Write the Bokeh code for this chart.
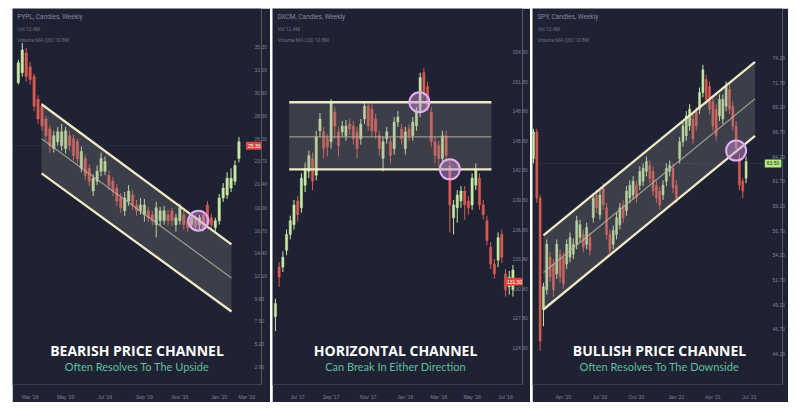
import numpy as np
from bokeh.plotting import figure
from bokeh.models import (Range1d, FixedTicker, ColumnDataSource, Label, Span,
                          Spacer, PrintfTickFormatter)
from bokeh.layouts import row, column
from bokeh.embed import file_html
from bokeh.resources import INLINE

# ---------------- DATA ----------------
# Panel 1 : bearish channel (weekly candles)
bear_open = [31.7, 32.7, 34.7, 33.3, 32.3, 30.0, 29.3, 28.0, 27.0, 25.0, 25.7, 25.3, 25.0, 26.3, 26.0,
             25.7, 23.0, 24.0, 23.0, 20.7, 21.7, 22.7, 22.7, 22.3, 21.7, 21.0, 20.0, 18.7, 19.7, 20.3,
             19.3, 18.7, 18.3, 18.7, 18.3, 17.3, 17.7, 17.7, 18.3, 18.7, 17.3, 17.7, 18.3, 17.7, 17.3,
             18.0, 17.3, 18.3, 19.3, 18.0, 17.0, 17.7, 20.0, 20.3, 21.0, 21.7, 24.0]
bear_close = [33.7, 35.0, 32.3, 32.0, 29.3, 28.0, 27.3, 26.3, 25.3, 26.3, 26.7, 26.7, 26.8, 25.3, 24.3,
              24.0, 24.7, 22.3, 21.7, 22.0, 22.7, 24.0, 23.7, 21.3, 20.7, 19.7, 19.0, 20.0, 20.7, 19.3,
              18.7, 19.3, 19.3, 18.0, 17.7, 19.0, 18.7, 18.7, 17.7, 17.7, 18.0, 19.0, 17.3, 17.0, 18.0,
              17.2, 18.0, 17.0, 17.3, 17.3, 17.7, 20.0, 21.0, 22.0, 22.0, 23.3, 25.7]
bear_high = [34.0, 35.7, 35.2, 33.8, 32.6, 30.4, 29.6, 28.3, 27.4, 26.8, 27.2, 27.5, 27.2, 26.8, 26.4,
             26.0, 25.2, 24.4, 23.4, 22.4, 23.3, 24.6, 24.2, 22.8, 22.1, 21.4, 20.5, 20.6, 21.3, 20.8,
             19.8, 20.0, 19.9, 19.1, 18.7, 19.6, 19.1, 19.2, 18.8, 19.0, 18.4, 19.4, 18.7, 18.0, 18.4,
             18.3, 18.3, 18.7, 19.7, 18.4, 18.0, 20.4, 21.5, 22.6, 23.0, 23.8, 26.2]
bear_low = [31.5, 32.3, 31.8, 31.5, 28.8, 27.5, 26.8, 25.8, 24.6, 24.6, 25.3, 24.8, 24.5, 24.8, 23.8,
            23.5, 22.6, 21.8, 21.2, 20.2, 21.3, 22.2, 22.3, 20.8, 20.2, 19.2, 18.5, 18.2, 19.2, 18.8,
            18.2, 18.3, 17.6, 17.6, 17.2, 16.0, 17.2, 17.3, 17.2, 17.1, 16.6, 17.3, 16.8, 16.6, 16.9,
            16.7, 16.8, 16.6, 16.9, 16.9, 16.6, 17.3, 19.6, 19.9, 20.6, 21.3, 23.6]
bear_chan_x = [5.9, 54.1]
bear_upper = [29.5, 15.3]
bear_mid = [26.0, 11.9]
bear_lower = [22.5, 8.5]
bear_touch_x = [45.7]
bear_touch_y = [17.7]
bear_last = 25.3
bear_price_ticks = [35.3, 33.0, 30.6, 28.3, 26.0, 23.7, 21.4, 19.0, 16.7, 14.4, 12.1, 9.8, 7.5, 5.2, 2.9]
bear_date_ticks = [3, 12, 22, 32, 41, 51, 58]
bear_date_labels = ["Mar '19", "May '19", "Jul '19", "Sep '19", "Nov '19", "Jan '20", "Mar '20"]

# Panel 2 : horizontal channel
horiz_open = [128.0, 133.0, 133.0, 134.7, 136.3, 137.3, 139.7, 139.0, 141.3, 142.7,
              144.0, 142.3, 146.8, 146.7, 146.0, 145.7, 148.7, 146.7, 146.7, 146.3,
              147.5, 147.3, 146.7, 146.0, 148.0, 149.3, 149.0, 148.0, 146.3, 144.0,
              146.0, 145.7, 145.0, 147.7, 147.0, 145.0, 147.0, 146.3, 147.3, 148.7,
              152.7, 151.3, 148.7, 145.7, 145.3, 144.0, 146.3, 143.3, 138.0, 139.0,
              139.7, 140.7, 139.7, 139.3, 141.3, 142.0, 139.3, 137.7, 135.0, 133.3,
              133.7, 136.3, 132.3, 131.0, 130.7]
horiz_close = [129.3, 132.0, 134.0, 136.3, 137.7, 139.3, 138.3, 142.0, 143.0, 144.3,
               141.7, 146.2, 148.0, 145.0, 145.2, 149.7, 147.3, 145.3, 147.3, 147.3,
               147.0, 146.0, 145.0, 147.5, 149.3, 147.3, 146.8, 146.7, 145.0, 145.7,
               146.7, 144.3, 147.7, 148.2, 146.0, 146.7, 146.3, 147.7, 148.7, 152.2,
               150.7, 149.3, 145.7, 144.3, 144.0, 146.3, 144.3, 139.3, 139.3, 140.3,
               140.7, 139.3, 139.0, 142.0, 143.0, 139.3, 138.3, 135.7, 133.3, 132.3,
               136.0, 134.0, 130.7, 132.0, 132.7]
horiz_high = [129.8, 133.5, 134.6, 136.8, 138.2, 139.8, 140.2, 142.5, 143.6, 144.8,
              144.6, 146.8, 148.6, 147.2, 146.5, 150.0, 149.2, 147.2, 147.8, 147.9,
              148.0, 147.8, 147.2, 148.0, 149.8, 149.8, 149.5, 148.5, 146.8, 146.2,
              147.2, 146.2, 148.2, 148.8, 147.5, 147.2, 147.5, 148.2, 149.2, 152.7,
              153.2, 151.8, 149.2, 146.2, 145.8, 146.8, 146.8, 143.8, 139.8, 140.8,
              141.2, 141.2, 140.2, 142.5, 143.5, 142.5, 139.8, 138.2, 135.5, 133.8,
              136.5, 136.8, 132.8, 132.6, 133.2]
horiz_low = [126.5, 131.0, 132.5, 134.2, 135.8, 136.8, 137.6, 138.5, 140.6, 142.0,
             140.8, 141.8, 146.2, 144.0, 144.2, 145.0, 146.0, 144.2, 146.2, 145.8,
             146.4, 145.4, 144.0, 145.4, 147.5, 146.8, 146.2, 146.0, 144.3, 142.7,
             145.5, 143.5, 144.4, 147.2, 145.4, 144.4, 145.8, 145.8, 146.8, 148.2,
             150.2, 148.8, 145.2, 143.5, 143.2, 143.5, 143.6, 136.5, 136.3, 137.5,
             139.0, 137.8, 138.3, 138.8, 140.8, 138.8, 137.8, 135.2, 132.8, 131.8,
             133.0, 133.4, 130.0, 130.2, 130.0]
horiz_chan_x = [3.7, 58.2]
horiz_upper = [149.7, 149.7]
horiz_mid = [146.2, 146.2]
horiz_lower = [142.9, 142.9]
horiz_touch_x = [38.8, 47.0]
horiz_touch_y = [149.7, 142.9]
horiz_last = 131.5
horiz_price_ticks = [154.8, 151.8, 148.8, 145.8, 142.8, 139.8, 136.8, 133.8, 130.8, 127.8, 124.8]
horiz_date_ticks = [6, 15, 25, 35, 44, 53, 62]
horiz_date_labels = ["Jul '17", "Sep '17", "Nov '17", "Jan '18", "Mar '18", "May '18", "Jul '18"]

# Panel 3 : bullish channel
bull_open = [64.0, 66.7, 60.0, 48.7, 50.7, 54.0, 53.3, 52.3, 54.3, 54.0,
             53.3, 54.0, 54.3, 55.3, 56.0, 56.3, 55.3, 56.0, 58.0, 60.3,
             58.3, 61.0, 59.0, 56.3, 55.3, 56.3, 57.3, 59.3, 58.7, 60.0,
             60.3, 61.3, 61.3, 61.7, 62.7, 63.3, 62.7, 61.3, 60.7, 60.3,
             61.7, 62.7, 63.0, 61.3, 64.0, 65.7, 66.3, 67.3, 68.0, 68.7,
             69.0, 70.7, 72.0, 71.3, 69.7, 69.0, 68.3, 68.0, 69.3, 71.0,
             69.3, 67.3, 64.0, 61.7, 62.0]
bull_close = [66.7, 60.0, 45.5, 51.0, 55.3, 52.0, 50.7, 55.3, 52.0, 51.3,
              55.3, 56.0, 55.3, 57.7, 57.3, 55.0, 57.0, 54.7, 60.0, 59.0,
              60.3, 59.3, 56.3, 54.7, 56.7, 58.0, 59.0, 58.0, 60.7, 61.3,
              61.7, 60.0, 62.7, 63.0, 63.7, 62.0, 60.7, 60.0, 59.3, 61.3,
              63.0, 63.3, 61.0, 60.0, 65.7, 67.3, 68.3, 69.0, 66.0, 67.3,
              70.7, 73.0, 70.0, 69.0, 67.3, 66.3, 70.0, 70.0, 71.3, 69.0,
              67.3, 65.0, 61.3, 60.7, 63.7]
bull_high = [67.0, 67.0, 60.3, 51.4, 55.8, 54.5, 53.8, 55.8, 54.8, 54.5,
             55.8, 56.5, 55.9, 58.2, 57.8, 56.8, 57.5, 56.5, 60.5, 60.8,
             60.8, 61.5, 59.5, 56.8, 57.2, 58.5, 59.5, 59.8, 61.2, 61.8,
             62.2, 61.8, 63.2, 63.5, 64.2, 63.8, 63.2, 61.8, 61.2, 61.8,
             63.5, 63.8, 63.5, 61.8, 66.2, 67.8, 68.8, 69.5, 68.5, 69.2,
             71.2, 73.5, 72.5, 71.8, 70.2, 69.5, 70.5, 70.5, 71.8, 71.5,
             69.8, 67.8, 64.5, 62.0, 64.2]
bull_low = [63.5, 59.5, 44.5, 47.0, 50.2, 51.5, 50.0, 51.8, 51.4, 50.8,
            52.8, 53.5, 53.8, 54.8, 55.5, 54.5, 54.8, 54.2, 57.5, 58.5,
            57.8, 58.8, 55.8, 54.2, 54.8, 55.8, 56.8, 57.5, 58.2, 59.5,
            59.8, 59.5, 60.8, 61.2, 62.2, 61.5, 60.2, 59.5, 58.8, 59.8,
            61.2, 62.2, 60.5, 59.5, 63.5, 65.2, 65.8, 66.8, 65.5, 66.8,
            68.5, 70.2, 69.5, 68.5, 66.8, 65.8, 67.8, 67.5, 68.8, 68.5,
            66.8, 64.5, 60.8, 60.0, 61.5]
bull_chan_x = [3.0, 66.7]
bull_upper = [56.2, 73.8]
bull_mid = [52.45, 70.05]
bull_lower = [48.7, 66.3]
bull_touch_x = [61.0]
bull_touch_y = [64.8]
bull_last = 63.5
bull_price_ticks = [74.2, 71.7, 69.2, 66.7, 64.2, 61.7, 59.2, 56.7, 54.2, 51.7, 49.2, 46.7, 44.2]
bull_date_ticks = [9, 20, 31, 43, 54, 65]
bull_date_labels = ["Apr '20", "Jul '20", "Oct '20", "Jan '21", "Apr '21", "Jul '21"]

# ---------------- STYLE ----------------
BG = "#1f2233"
UP = "#c8e8a4"
DOWN = "#da5a52"
CH_LINE = "#efe9c6"
MID_LINE = "#b9b49e"
BAND = "#8e8e8e"
RING = "#e2b0ee"
RING_FILL = "#c890d8"
SUB = "#5fbf9e"
TXT_DIM = "#7f8396"
H = 394
TOP_OFF = 8                     # page offset of the panels
FRAME_TOP, FRAME_BOTTOM = 8, 389   # page px of plot area


def panel(o, c, hi, lo, chan_x, up, mid, low, tx, ty, last, last_color, last_text_color,
          price_ticks, date_ticks, date_labels, width, fig_l, frame_l, frame_r, xr, yr,
          label_px, ticker_name, title, subtitle, title_cx, last_box_px, show_last_line):
    def at(px, py):
        x = xr[0] + (px - frame_l) / (frame_r - frame_l) * (xr[1] - xr[0])
        y = yr[1] - (py - FRAME_TOP) / (FRAME_BOTTOM - FRAME_TOP) * (yr[1] - yr[0])
        return x, y

    p = figure(width=width, height=H, x_range=Range1d(*xr), y_range=Range1d(*yr),
               output_backend="svg", toolbar_location=None, y_axis_location="right",
               min_border_left=frame_l - fig_l, min_border_top=FRAME_TOP - TOP_OFF,
               min_border_bottom=H - (FRAME_BOTTOM - FRAME_TOP),
               min_border_right=(fig_l + width) - frame_r,
               background_fill_color=BG, border_fill_color=BG, outline_line_color=None)
    p.grid.visible = False

    xa = p.xaxis[0]
    xa.ticker = FixedTicker(ticks=date_ticks)
    xa.major_label_overrides = {t: s for t, s in zip(date_ticks, date_labels)}
    xa.axis_line_color = "#3b3f55"
    xa.major_tick_line_color = None
    xa.minor_tick_line_color = None
    xa.major_label_text_font_size = "5px"
    xa.major_label_text_color = TXT_DIM
    xa.major_label_standoff = 3

    ya = p.yaxis[0]
    ya.ticker = FixedTicker(ticks=price_ticks)
    ya.formatter = PrintfTickFormatter(format="%.2f")
    ya.axis_line_color = None
    ya.major_tick_line_color = None
    ya.minor_tick_line_color = None
    ya.major_label_text_font_size = "5px"
    ya.major_label_text_color = TXT_DIM
    ya.major_label_standoff = label_px - frame_r

    n = len(o)
    oa, ca = np.array(o), np.array(c)
    src = ColumnDataSource(dict(
        x=np.arange(n), high=hi, low=lo,
        top=np.maximum(oa, ca), bottom=np.minimum(oa, ca),
        color=[UP if cc >= oo else DOWN for oo, cc in zip(o, c)]))

    if show_last_line:
        p.add_layout(Span(location=last, dimension="width", line_color="#8a8ea0",
                          line_alpha=0.35, line_width=1, line_dash="1 2"))

    p.segment(x0="x", y0="low", x1="x", y1="high", color="color", line_width=1, source=src)
    p.vbar(x="x", width=0.6, top="top", bottom="bottom", fill_color="color",
           line_color="color", line_width=0.5, source=src)

    p.varea(x=chan_x, y1=low, y2=up, fill_color=BAND, fill_alpha=0.26)
    p.line(chan_x, mid, line_color=MID_LINE, line_width=1.3, line_alpha=0.75)
    p.line(chan_x, up, line_color=CH_LINE, line_width=2.3)
    p.line(chan_x, low, line_color=CH_LINE, line_width=2.3)

    p.scatter(tx, ty, marker="circle", size=20, fill_color=RING_FILL, fill_alpha=0.45,
              line_color=RING, line_width=2)

    # current price tag
    lx, _ = at(last_box_px, 0)
    p.add_layout(Label(x=lx, y=last, text=f"{last:.2f}", text_font_size="5px",
                       text_color=last_text_color, text_align="left", text_baseline="middle",
                       background_fill_color=last_color, padding=2))

    # header texts
    hx, hy1 = at(frame_l + 5, 17)
    _, hy2 = at(0, 29)
    _, hy3 = at(0, 40)
    p.add_layout(Label(x=hx, y=hy1, text=f"{ticker_name}, Candles, Weekly", text_font="Roboto",
                       text_font_size="6.5px", text_color="#868aa0", text_baseline="middle"))
    p.add_layout(Label(x=hx, y=hy2, text="Vol 12.4M", text_font="Roboto",
                       text_font_size="5px", text_color="#6c7086", text_baseline="middle"))
    p.add_layout(Label(x=hx, y=hy3, text="Volume MA (20) 10.8M", text_font="Roboto",
                       text_font_size="5px", text_color="#6c7086", text_baseline="middle"))

    # titles
    tx0, ty0 = at(title_cx, 355)
    _, ty1 = at(title_cx, 371)
    p.add_layout(Label(x=tx0, y=ty0, text=title, text_font="Open Sans", text_font_style="bold",
                       text_font_size="14px", text_color="#ffffff", text_align="center",
                       text_baseline="middle"))
    p.add_layout(Label(x=tx0, y=ty1, text=subtitle, text_font="Lato",
                       text_font_size="11px", text_color=SUB, text_align="center",
                       text_baseline="middle"))
    return p


p1 = panel(bear_open, bear_close, bear_high, bear_low, bear_chan_x, bear_upper, bear_mid, bear_lower,
           bear_touch_x, bear_touch_y, bear_last, "#e0443e", "#ffffff",
           bear_price_ticks, bear_date_ticks, bear_date_labels,
           width=258, fig_l=12, frame_l=12, frame_r=268,
           xr=((12 - 18) / 4.05, (268 - 18) / 4.05), yr=(1.1, 39.2),
           label_px=255, ticker_name="PYPL", title="BEARISH PRICE CHANNEL",
           subtitle="Often Resolves To The Upside", title_cx=140, last_box_px=252, show_last_line=True)

p2 = panel(horiz_open, horiz_close, horiz_high, horiz_low, horiz_chan_x, horiz_upper, horiz_mid,
           horiz_lower, horiz_touch_x, horiz_touch_y, horiz_last, "#e0443e", "#ffffff",
           horiz_price_ticks, horiz_date_ticks, horiz_date_labels,
           width=258, fig_l=272, frame_l=272, frame_r=528,
           xr=((272 - 275) / 3.8, (528 - 275) / 3.8), yr=(121.1, 159.2),
           label_px=512, ticker_name="DXCM", title="HORIZONTAL CHANNEL",
           subtitle="Can Break In Either Direction", title_cx=398, last_box_px=510,
           show_last_line=False)

p3 = panel(bull_open, bull_close, bull_high, bull_low, bull_chan_x, bull_upper, bull_mid, bull_lower,
           bull_touch_x, bull_touch_y, bull_last, "#b4ec7c", "#1f2233",
           bull_price_ticks, bull_date_ticks, bull_date_labels,
           width=256, fig_l=532, frame_l=532, frame_r=786,
           xr=((532 - 533) / 3.375, (786 - 533) / 3.375), yr=(41.1, 79.2),
           label_px=770, ticker_name="SPY", title="BULLISH PRICE CHANNEL",
           subtitle="Often Resolves To The Downside", title_cx=661, last_box_px=768,
           show_last_line=True)

layout = column(Spacer(width=10, height=TOP_OFF),
                row(Spacer(width=10, height=H), p1, p2, p3, spacing=2))

open("out.html", "w").write(file_html(layout, INLINE))
